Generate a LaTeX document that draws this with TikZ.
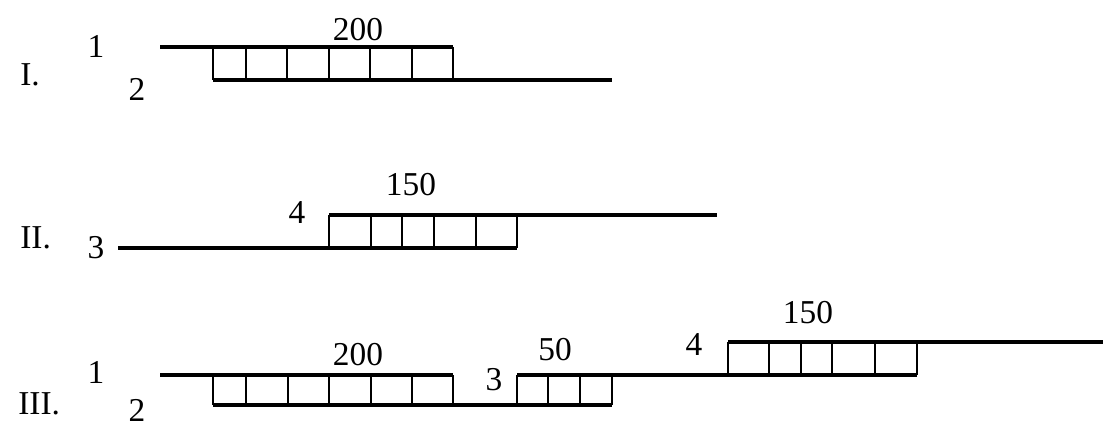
\documentclass[tikz,border=0pt]{standalone}
\usepackage{fontspec}
\setmainfont{Liberation Serif}
\begin{document}
\begin{tikzpicture}[x=0.02cm,y=-0.02cm,
  strand/.style={line width=1.8pt, line cap=butt},
  cell/.style={line width=0.9pt},
  lbl/.style={font=\fontsize{19}{19}\selectfont, inner sep=0pt},
  roman/.style={font=\fontsize{19}{19}\selectfont, inner sep=0pt, anchor=west}]
\useasboundingbox (0,0) rectangle (1103,427);

% ---------- Row I ----------
\node[roman] (rI) at (20,75) {I.};
\node[lbl] (n1a) at (96,46) {1};
\node[lbl] (n2a) at (137,89) {2};
\node[lbl] (l200a) at (358,30) {200};
\draw[strand] (160,47) -- (453,47);
\draw[strand] (213,80) -- (612,80);
\foreach \x in {213,246,287,329,370,412,453} \draw[cell] (\x,47) -- (\x,80);

% ---------- Row II ----------
\node[roman] (rII) at (20,238) {II.};
\node[lbl] (n3b) at (96,248) {3};
\node[lbl] (n4b) at (297,213) {4};
\node[lbl] (l150b) at (411,185) {150};
\draw[strand] (118,248) -- (517,248);
\draw[strand] (329,215) -- (717,215);
\foreach \x in {329,371,402,434,476,517} \draw[cell] (\x,215) -- (\x,248);

% ---------- Row III ----------
\node[roman] (rIII) at (18,404) {III.};
\node[lbl] (n1c) at (96,372) {1};
\node[lbl] (n2c) at (137,410) {2};
\node[lbl] (l200c) at (358,355) {200};
\node[lbl] (n3c) at (494,380) {3};
\node[lbl] (l50c) at (555,350) {50};
\node[lbl] (n4c) at (694,345) {4};
\node[lbl] (l150c) at (808,313) {150};
\draw[strand] (160,375) -- (453,375);
\draw[strand] (213,405) -- (612,405);
\foreach \x in {213,246,288,329,371,412,453} \draw[cell] (\x,375) -- (\x,405);
\draw[strand] (517,375) -- (728,375);
\foreach \x in {517,548,580,612} \draw[cell] (\x,375) -- (\x,405);
\draw[strand] (728,342) -- (1103,342);
\foreach \x in {728,769,801,832,875,917} \draw[cell] (\x,342) -- (\x,375);
\draw[strand] (728,375) -- (917,375);
\end{tikzpicture}
\end{document}
